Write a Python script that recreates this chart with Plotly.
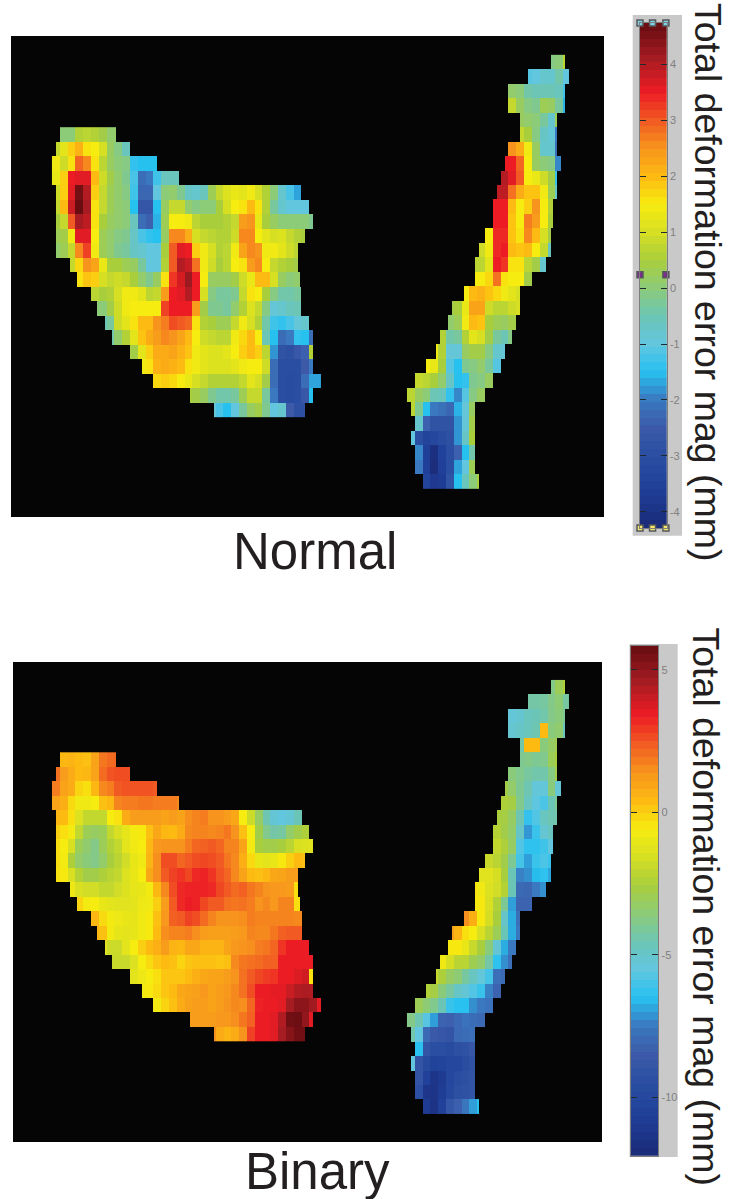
import numpy as np
import plotly.graph_objects as go

W, H = 730, 1199

CMAP_LEVELS = [-4.29, -3.6, -3, -2.5, -2, -1.5, -1, -0.5, 0, 0.5, 1, 1.5, 2, 2.5, 3, 3.5, 4.1, 4.74]
CMAP_COLORS = ["#1b2a78", "#1f3f98", "#2a4ea2", "#3c5aa8", "#3a78bf", "#27c1f0", "#62c6df", "#6cc5b5", "#8ccb78",
               "#a9ce3c", "#d7df23", "#f7ec0f", "#fdba12", "#f7941d", "#f15a22", "#ed1c24", "#a61c22", "#650c10"]

NORMAL_RANGE = [-4.29, 4.74]
BINARY_RANGE = [-12.06, 5.85]
NORMAL_TICKS = [-4, -3, -2, -1, 0, 1, 2, 3, 4]
BINARY_TICKS = [-10, -5, 0, 5]
PANEL_NAMES = ["Normal", "Binary"]
BAR_TITLE = "Total deformation error mag (mm)"

# Mask of each region, in quarter-cell columns per row
LEFT_START = [4, 2, 0, 0, 2, 2, 2, 2, 2, 9, 13, 20, 23, 27, 31, 40, 46, 52, 71, 83]
LEFT_END = [33, 40, 54, 65, 128, 132, 134, 130, 126, 126, 127, 128, 128, 132, 134, 134, 134, 138, 134, 130]
RIGHT_START = [74, 62, 52, 52, 58, 58, 52, 50, 48, 46, 44, 44, 40, 37, 35, 35, 29, 23, 21, 17, 15, 10, 4, 0, 2, 4, 2, 4, 4, 8]
RIGHT_END = [81, 83, 81, 81, 77, 77, 77, 79, 77, 77, 75, 75, 74, 74, 71, 64, 58, 58, 56, 54, 50, 48, 44, 40, 35, 35, 35, 35, 35, 37]

NORMAL_LEFT = [
    [0, 0, .6, .7, .6, .4, .1, .1],
    [.8, 1.2, 1.8, 2.1, 1.6, 1.5, 1.0, .2, -.1, -.6],
    [1.4, .9, 1.6, 2.9, 2.6, 1.6, .7, .2, 0, -.1, -1.4, -1.5, -1.5, -1.5],
    [1.3, 1.8, 3.5, 3.6, 3.6, 2.0, .9, .4, .1, -.2, -1.2, -2.2, -2.0, -1.3, -.6, -.6, -.6],
    [.9, 1.8, 3.6, 4.6, 4.0, 1.8, .8, .3, .1, -.1, -1.3, -2.3, -2.3, -1.0, 0, .1, -.2, -.7, -.8, -.6, .3, .8, 1.1, 1.3, 1.2, 1.4, 1.0, .6, 0, -.8, -1.2, -1.7],
    [.8, 2.0, 3.8, 4.7, 4.1, 1.6, .8, .3, .1, 0, -1.5, -2.7, -2.7, -1.5, .2, .8, .8, .1, -.1, 0, 0, .5, 1.0, 1.5, 1.6, 2.0, 1.6, .6, -.3, -.8, -1, -1, -1],
    [.5, .8, 3.0, 4.1, 3.9, 1.6, .5, .2, .1, 0, -.6, -2.2, -2.4, -1.6, .3, 1.5, 1.5, 1.4, .7, .5, .5, .5, .6, .8, 2.4, 2.5, 1.3, .5, .2, 0, 0, 0, 0, -.2],
    [.3, .4, 1.4, 3.6, 3.6, 1.5, .3, .1, -.1, -.2, -.7, -1.2, -1.4, -1.5, .2, 2.6, 2.6, 2.2, 1.0, .8, .7, .6, .6, .9, 2.6, 2.6, 1.5, 1.2, 1.0, 1.1, .8, .6, .5],
    [.1, .3, .8, 2.6, 3.2, 1.4, .3, .1, -.2, -.3, -.7, -.8, -1, -1, .5, 3.0, 3.6, 3.5, 1.8, 1.4, 1.0, .6, .7, 1.4, 2.3, 2.6, 2.5, 1.4, 1.4, 1.2, .9, .7],
    [.8, 1.7, 2.5, 2.3, 1.3, .5, .5, .3, .2, -.3, -1, -1, .6, 3.0, 4.0, 3.8, 2.8, 1.4, .9, .5, .7, 1.5, 1.6, 2.4, 2.6, 1.5, .8, .6, .5, .4],
    [1.6, 1.9, 1.8, 1.0, .8, .9, .8, .5, .1, -.2, .2, 1.6, 3.3, 3.7, 4.2, 3.5, 1.5, .2, .2, .2, .4, .9, 1.3, 2.0, 2.0, 1.0, .2, 0, .1],
    [.7, .5, .6, 1.0, 1.4, 1.4, 1.2, .7, .8, 2.4, 3.5, 3.6, 4.0, 3.5, 1.0, -.1, -.3, -.3, -.2, .8, 1.6, 1.5, .5, -.1, -.4, -.4, -.3],
    [0, 0, .4, .9, 1.4, 1.5, 1.5, 1.5, 1.5, 3.2, 3.5, 3.5, 3.5, 2.4, .4, -.2, -.2, -.3, .1, .6, 1.1, .8, -.1, -.9, -.8, -.6, -.5],
    [-.5, -.3, .9, 1.2, 1.6, 2, 2, 2.5, 2.7, 3.1, 3, 2.9, 1.6, .6, .5, .3, .3, .8, 1.4, 1.0, .6, -.4, -1.3, -1.4, -1.2, -.9, -.8],
    [-.4, .1, .6, 1.2, 1.9, 2.2, 2.4, 2.6, 2.5, 2.3, 2, 1.5, .9, .8, .7, .7, 1.4, 1.7, 2.0, 1.5, -.5, -1.5, -2.2, -2, -1.4, -1.5, -2.2],
    [.4, 1.2, 1.8, 2.2, 2.2, 2.3, 2.1, 1.9, 1.4, 1.2, 1.1, 1.1, 1.2, 1.5, 1.8, 2.0, 1.8, .7, -1.8, -2.8, -2.9, -2.6, -2.4, .6],
    [1.4, 1.6, 2.1, 2.2, 2.1, 2.0, 1.6, 1.4, 1.2, 1.1, 1.1, 1.1, 1.2, 1.4, 1.5, 1.5, .9, -2.2, -3, -3, -3, -2.5, -2],
    [1.7, 1.8, 1.7, 1.5, 1.3, 1.0, .8, .6, .6, .6, .6, .8, 1.2, 1.0, .4, -2.2, -3, -3.1, -3, -2.2, -1.7, -1.7],
    [.5, .4, .2, -.2, -.4, -.4, -.3, .3, .8, .8, -.3, -2.0, -3, -3.1, -3, -2.6, -1.5],
    [-.9, -1.2, -1.5, -1.0, -.3, .2, .4, -.2, -1.0, -.8, -2.5, -2.9, -2.9],
]

NORMAL_RIGHT = [
    [-.1, 0, .7],
    [-1.1, -1, -.8, -.8, -.4, -1.0],
    [.1, 0, -.4, -.5, -.5, -.5, -.6, -1.3],
    [.8, .2, -.1, -.2, .3, .2, -.3, -1.6],
    [.2, .1, 0, -.3, -.8, .3],
    [.8, .5, -.1, -.7, -.9, -2.0],
    [2.5, 2.2, 1.4, .2, -.8, -.8, -2.2],
    [3.5, 3.5, 2.9, 1.5, .2, 0, -.1, -1.9],
    [4.0, 3.6, 3.0, 1.5, 1.3, .9, .4, -1.4],
    [3.9, 3.9, 2.8, 2.2, 1.9, 1.9, 1.4, .3, -.8],
    [3.5, 3.5, 2.0, 1.5, 1.8, 2.5, 1.5, .6],
    [3.5, 3.5, 1.9, 1.5, 2.7, 2.4, 1.5, .5],
    [1.5, 3.4, 3.4, 1.9, 1.6, 2.6, 2.0, 1.0, .4],
    [.9, 1.4, 3.4, 3.5, 2.0, 1.9, 2, 1.5, .8, -.6],
    [.7, .7, 1.2, 3.5, 3.3, 1.6, 1.6, .7, .4, -.8],
    [1.5, 1.5, 1.7, 2.8, 1.6, 1.5, 1.5, .4],
    [1.5, 2.0, 2.1, 1.9, 1.7, 1.4, 1.2, 1.0],
    [.4, .5, 1.3, 2.3, 2.3, .9, .7, .7, .9, 1.0],
    [.1, .3, 1.4, 2.0, 1.9, .5, .3, .2, .4],
    [.6, -.4, -.3, .6, 1.2, 1.0, .4, -.3, -.5, -.1],
    [1.4, .6, -.9, -.9, .2, .4, .4, -.1, -.8, -.9],
    [1.5, 1.3, .5, -1.1, -1.5, -.2, -.1, .1, -.3, -1.1],
    [.8, .7, .5, .1, -.7, -1.5, -1.4, -.2, -.1, .2],
    [.7, .2, 0, -.5, -.6, -1.4, -1.9, -1.1, -.1, .2],
    [.7, -.2, -1.5, -2.0, -2.1, -2.3, -1.6, -.9, .2],
    [-.8, -2.4, -2.8, -2.8, -2.8, -1.8, -.9, .4],
    [-1, -3.0, -3.4, -3.3, -3.1, -2.9, -1.8, -.7, .5],
    [-1.9, -3.6, -4.1, -3.5, -3.0, -2.4, -1.5, -.4],
    [-2.0, -3.6, -4.2, -3.6, -3.0, -1.7, -1.0, .3],
    [-3.4, -3.8, -3.7, -2.8, -1.5, -.6, 0, .5],
]

BINARY_LEFT = [
    [.5, .6, .4, .3, 1.0, 1.9, 2.1, 2.2],
    [2.0, 1.2, .8, .4, .5, 1.0, 2.1, 2.5, 2.6, 2.6],
    [1.8, 1.0, .8, -.1, -.3, .5, 1.6, 1.8, 2.4, 2.5, 2.5, 2.5, 2.5, 2.4],
    [1.0, .7, -.2, -.8, -.8, -.6, .3, .5, 1.7, 1.8, 1.8, 1.9, 1.9, 1.8, 1.8, 1.8, 1.6],
    [.5, .4, -.3, -1.4, -2, -2, -2, -.6, -.4, .8, 1.2, 1.2, 1.2, 1.2, 1.0, 1.2, 1.0, 1.5, 1.7, 1.8, 1.4, 1.4, 1.2, .9, -.6, -1.8, -3.2, -4.5, -5.3, -5.5, -5.3, -4.6],
    [0, -.3, -.7, -2, -3, -3.2, -3, -2, -1.5, -1.1, -.7, -.5, .3, .9, .5, .4, .8, 1.6, 1.7, 1.7, 1.6, 1.7, 1.9, 1.4, .3, -.6, -2.8, -3.9, -4.3, -4.2, -3.3, -2.8, -2.5],
    [-.3, -.6, -1.5, -3, -3.4, -3.8, -3, -2.4, -2, -1.2, -.8, -.6, .5, 1.3, 1.4, 1.4, 1.4, 1.8, 2.2, 2.3, 2.4, 2.2, 1.7, 1.7, 1.0, -.7, -2.6, -2.8, -2.8, -2.6, -2.2, -1.5, -1.4, -1.3],
    [-.3, -.7, -2.5, -3.3, -3.6, -3.8, -3.3, -2.6, -2.2, -1.7, -1.0, -.8, .6, 1.5, 2.6, 2.6, 2.2, 2.4, 2.6, 2.7, 2.6, 2.4, 1.9, 1.6, .7, -.2, -1.0, -1.2, -1.0, -.5, 0, .4, .3],
    [-.4, -.5, -1.5, -2.3, -2.8, -2.8, -2.5, -2.2, -2, -1.4, -1, -.6, .9, 1.5, 2.4, 2.8, 3.0, 2.7, 3.2, 3.3, 3.0, 2.5, 2.2, 1.6, 1.0, .4, .3, .5, .9, 1.0, 1.2, 1.2],
    [-.9, -1.5, -1.7, -1.7, -2, -2, -1.7, -1.4, -1.1, -1, -.7, .5, 1.6, 2.6, 3.2, 3.3, 3.3, 3.3, 3.2, 2.7, 2.4, 2.1, 2.3, 1.9, 1.7, 1.4, 1.3, 1.3, 1.2, -.3],
    [-.1, -.7, -.6, -1, -1.2, -1.3, -1.3, -1.2, -.9, -.8, 0, 1.2, 2.4, 3.2, 3.4, 3.3, 2.7, 2.4, 2.4, 2, 1.9, 2, 1.8, 1.4, 1.6, 1.3, 1.7, 1.7, -.3],
    [.5, -.2, -.7, -.9, -1, -1.1, -.8, -.5, .3, 1.3, 2.3, 2.4, 2.8, 2.6, 2.1, 1.7, 1.4, 1.4, 1.4, 1.5, 1.8, 1.7, 1.7, 1.7, 1.7, 1.7, 1.6],
    [.6, .3, -.7, -1.1, -1.2, -1.1, -.8, -.5, .4, 1.5, 1.7, 1.7, 1.8, 1.5, 1.2, 1.1, 1.1, 1.1, 1.2, 1.3, 1.7, 1.6, 1.6, 1.9, 2.3, 2.4, 2.4],
    [-1.3, -1.8, -1.8, -1.2, -.6, 0, .4, .7, 1.2, .6, .5, .9, .9, .6, .6, .6, 1.0, 1.3, 1.4, 1.5, 1.8, 1.9, 2.2, 3.0, 3.4, 3.4, 3.4],
    [-1.9, -1.9, -1.9, -1.4, -.6, -.2, .2, .4, .3, -.1, .2, .3, .3, .3, .2, .3, 1.6, 1.9, 2.0, 2.1, 2.3, 2.3, 3.4, 3.4, 3.4, 3.4, 3.4],
    [-1.2, -.9, -.6, -.3, .2, .2, .2, .4, .7, .9, 1.0, 1.0, 1.2, 1.4, 2.0, 2.4, 2.7, 2.9, 3.0, 3.4, 3.4, 3.7, 3.9, -.4],
    [-.7, -.5, -.2, .2, .4, .9, 1.0, 1.1, 1.3, 1.0, 1.2, 1.3, 1.6, 2.0, 2.6, 3.4, 3.4, 3.5, 3.5, 4.0, 4.4, 4.5, 4.4],
    [-.7, -.1, .3, .8, 1.1, 1.2, 1.2, 1.0, 1.2, 1.4, 1.6, 1.5, 2.2, 3.3, 3.4, 3.4, 3.6, 4.6, 5.1, 5.1, 4.7, 3.5],
    [1.2, 1.2, 1.2, 1.2, 1.3, 1.3, 1.5, 1.9, 2.3, 3.4, 3.4, 3.6, 4.4, 5.6, 5.7, 5.0, 3.6],
    [1.5, .8, .6, .8, 1.4, 2.8, 3.4, 3.4, 3.6, 4.6, 5.2, 5.6, 5.6],
]

BINARY_RIGHT = [
    [-3.8, -3, -2.4],
    [-4.3, -4.3, -4.2, -3.8, -3.5, -4.2],
    [-5.4, -5.2, -4.7, -4.6, -4.4, -3.8, -3.6, -4.0],
    [-5.2, -5, -4.7, -4.5, .4, -3.6, -3.4, -4.7],
    [-4.4, .4, .4, -3.6, -3.2, -2.9],
    [-4, -3.8, -4, -3.9, -3, -2.6],
    [-3.6, -3.9, -4.2, -4.4, -4.4, -3.7, -2.8],
    [-2.8, -3.3, -4, -4.5, -5.4, -5.4, -3.6, -5.3],
    [-2.5, -2.7, -3.9, -4.8, -5.6, -5.9, -4.6, -4],
    [-2.6, -2.7, -3.2, -4.5, -6.3, -5.8, -4.8, -4.5, -4.4],
    [-2.3, -2.8, -3.3, -5, -7.1, -6.2, -5.2, -4.8],
    [-2, -2.5, -3.2, -5.8, -6.4, -6.4, -6.1, -5.5],
    [-1.9, -2.2, -2.8, -4, -6, -7, -6.2, -5.9, -6.2],
    [-1.3, -1.3, -1.6, -2.6, -4.6, -7.4, -7.2, -6.6, -6.4, -6.9],
    [-.4, -.8, -1.4, -1.7, -2.3, -4.6, -8, -8.1, -7.5, -7.2],
    [-.5, -.5, -1.5, -2.4, -4, -7, -8.2, -8.2],
    [1.5, .7, -.5, -1.6, -2.6, -5, -6.8, -7.8],
    [1.2, .6, -.3, -.6, -1.5, -2.2, -3, -4.6, -6.8, -7.6],
    [-.5, -.5, -1, -1.9, -2.6, -3.6, -5.3, -6.8, -7.5],
    [-.8, -1.6, -2.2, -2.2, -2.9, -3.3, -4.3, -6.4, -7.2, -7.8],
    [-1.9, -2.5, -3.2, -3.5, -4.2, -4.8, -5.4, -6, -7.8, -8],
    [-2.4, -2.7, -3.6, -4.2, -5, -5.3, -5.8, -6.2, -7.4, -8.2],
    [-3, -3.5, -3.9, -4.6, -6.2, -6.5, -6.5, -7.2, -7.5, -7.7],
    [-3.8, -4.5, -5.7, -7, -8.2, -8.3, -8, -7.7, -7.9, -8],
    [-4.4, -5.5, -8, -8.6, -8.8, -9, -8, -7.9, -7.8],
    [-6.5, -9, -9.5, -9.5, -9.7, -9.3, -9.2, -8.8],
    [-5.5, -9, -9.8, -10.4, -10.3, -10, -10, -9.6, -9.2],
    [-9, -10.5, -11.3, -11, -10, -9.6, -9.3, -9],
    [-9.4, -11.3, -11.4, -10.8, -9.9, -9.3, -9.2, -9],
    [-11, -11.5, -10.6, -8.9, -8.3, -7.6, -7, -6.5],
]


def expand(rows, starts, ends):
    grid = np.full((len(rows), max(ends)), np.nan)
    for r, vals in enumerate(rows):
        for c in range(starts[r], ends[r]):
            grid[r, c] = vals[min(c // 4 - starts[r] // 4, len(vals) - 1)]
    return grid


def colorscale():
    span = CMAP_LEVELS[-1] - CMAP_LEVELS[0]
    return [[(v - CMAP_LEVELS[0]) / span, c] for v, c in zip(CMAP_LEVELS, CMAP_COLORS)]


def px_x(p):
    return p / W


def px_y(p):
    return 1 - p / H


INK = "#231f20"
BG = "#050505"
fig = go.Figure()

panels = [
    dict(name="", left=NORMAL_LEFT, right=NORMAL_RIGHT, rng=NORMAL_RANGE, box=(11, 604, 36, 517),
         xr=[-21, 283], yr=[31.93, -1.3]),
    dict(name="2", left=BINARY_LEFT, right=BINARY_RIGHT, rng=BINARY_RANGE, box=(13, 602, 662, 1142),
         xr=[-20, 282], yr=[31.93, -1.24]),
]
cs = colorscale()
layout_axes = {}
for p in panels:
    n = p["name"]
    for rows, starts, ends, x_org, y_org in [
        (p["left"], LEFT_START, LEFT_END, 0, 5),
        (p["right"], RIGHT_START, RIGHT_END, 182, 0),
    ]:
        fig.add_trace(go.Heatmap(
            z=expand(rows, starts, ends), x0=x_org + 0.5, dx=1, y0=y_org + 0.5, dy=1,
            zmin=p["rng"][0], zmax=p["rng"][1], colorscale=cs, showscale=False,
            hoverinfo="skip", xaxis="x" + n, yaxis="y" + n))
    x0, x1, y0, y1 = p["box"]
    layout_axes["xaxis" + n] = dict(domain=[px_x(x0), px_x(x1)], range=p["xr"], visible=False,
                                    anchor="y" + n)
    layout_axes["yaxis" + n] = dict(domain=[px_y(y1), px_y(y0)], range=p["yr"], visible=False,
                                    anchor="x" + n)

bars = [
    dict(n="3", rng=NORMAL_RANGE, ticks=NORMAL_TICKS, box=(640, 666.7, 23, 528), band=(632.7, 682, 15, 535.7)),
    dict(n="4", rng=BINARY_RANGE, ticks=BINARY_TICKS, box=(630.7, 658.3, 645.7, 1156), band=(629.5, 677.7, 644, 1157)),
]
shapes = []
for b in bars:
    n = b["n"]
    levels = np.linspace(b["rng"][0], b["rng"][1], 65)
    mids = (levels[:-1] + levels[1:]) / 2
    fig.add_trace(go.Heatmap(
        z=mids.reshape(-1, 1), x0=0.5, dx=1, y0=mids[0], dy=mids[1] - mids[0],
        zmin=b["rng"][0], zmax=b["rng"][1], colorscale=cs, showscale=False,
        hoverinfo="skip", xaxis="x" + n, yaxis="y" + n))
    x0, x1, y0, y1 = b["box"]
    layout_axes["xaxis" + n] = dict(domain=[px_x(x0), px_x(x1)], range=[0, 1], anchor="y" + n,
                                    showticklabels=False, ticks="", showgrid=False, zeroline=False,
                                    showline=True, linecolor="#7d7d7d", linewidth=1, mirror=True)
    layout_axes["yaxis" + n] = dict(domain=[px_y(y1), px_y(y0)], range=b["rng"], anchor="x" + n, side="right",
                                    tickvals=b["ticks"], ticktext=[str(t) for t in b["ticks"]],
                                    ticks="inside", ticklen=6, tickwidth=1,
                                    tickcolor="#1f2a30", mirror="ticks", showgrid=False, zeroline=False,
                                    showline=True, linecolor="#7d7d7d", linewidth=1,
                                    tickfont=dict(family="Liberation Sans", size=11, color="#808080"))
    bx0, bx1, by0, by1 = b["band"]
    shapes.append(dict(type="rect", xref="paper", yref="paper", x0=px_x(bx0), x1=px_x(bx1),
                       y0=px_y(by1), y1=px_y(by0), fillcolor="#c9c9c9", line_width=0, layer="below"))

HANDLE_X = [0, 0.47, 0.97]
for hx, hy, col in [
    (HANDLE_X, [NORMAL_RANGE[1]] * 3, "#7fd3e6"),
    (HANDLE_X, [NORMAL_RANGE[0]] * 3, "#f5e76a"),
    ([0, 0.97], [0.24] * 2, "#7b2d8e"),
]:
    fig.add_trace(go.Scatter(x=hx, y=hy, mode="markers", xaxis="x3", yaxis="y3", cliponaxis=False,
                             hoverinfo="skip", showlegend=False,
                             marker=dict(symbol="square", size=6, color=col, line=dict(color="#55585a", width=1.5))))

annotations = [
    dict(text=PANEL_NAMES[0], x=px_x(315), y=px_y(551), size=51),
    dict(text=PANEL_NAMES[1], x=px_x(317), y=px_y(1171), size=51),
]
annotations = [dict(text=a["text"], x=a["x"], y=a["y"], xref="paper", yref="paper", showarrow=False,
                    xanchor="center", yanchor="middle",
                    font=dict(family="Liberation Sans", size=a["size"], color=INK)) for a in annotations]
for px, py in [(708, 282), (705.5, 907)]:
    annotations.append(dict(text=BAR_TITLE, x=px_x(px), y=px_y(py), xref="paper", yref="paper", showarrow=False,
                            textangle=90, xanchor="center", yanchor="middle",
                            font=dict(family="Liberation Sans", size=37.5, color=INK)))

fig.update_layout(width=W, height=H, margin=dict(l=0, r=0, t=0, b=0), paper_bgcolor="white", plot_bgcolor=BG,
                  showlegend=False, shapes=shapes, annotations=annotations, **layout_axes)
fig.write_html("out.html", config=dict(displayModeBar=False),
               post_script="document.body.style.margin='0';document.documentElement.style.overflow='hidden';")
